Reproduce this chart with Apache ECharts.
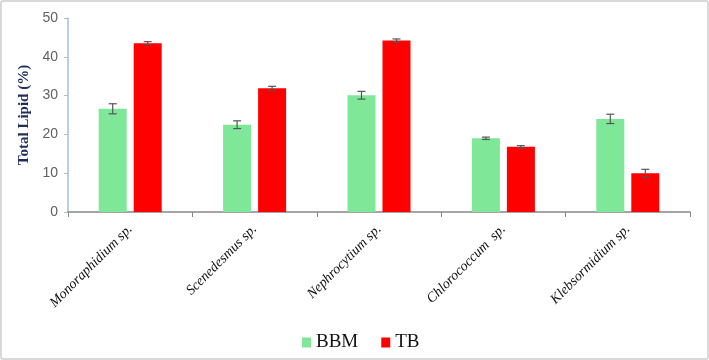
<!DOCTYPE html>
<html>
<head>
<meta charset="utf-8">
<script src="https://cdn.jsdelivr.net/npm/echarts@6/dist/echarts.min.js"></script>
<style>
  html, body { margin: 0; padding: 0; background: #fff; }
  #chart { width: 705px; height: 356px; border: 2px solid #d9d9d9; border-radius: 3px; }
</style>
</head>
<body>
<div id="chart"></div>
<script>
// species names (x axis)
var categories = ['Monoraphidium sp.', 'Scenedesmus sp.', 'Nephrocytium sp.', 'Chlorococcum  sp.', 'Klebsormidium sp.'];

// total lipid %
var bbmValues = [26.6, 22.5, 30.1, 19.0, 24.0];
var bbmErrors = [1.3, 1.0, 1.0, 0.3, 1.2];
var tbValues = [43.5, 31.9, 44.2, 16.8, 10.0];
var tbErrors = [0.4, 0.5, 0.4, 0.3, 1.0];

var chart = echarts.init(document.getElementById('chart'));

// error bars drawn on top of the bars, shifted left/right to each bar
var errorSeries = function (values, errors, side) {
    var data = values.map(function (v, i) { return [i, v - errors[i], v + errors[i]]; });
    return {
        type: 'custom',
        name: side < 0 ? 'errBBM' : 'errTB',
        z: 10,
        silent: true,
        renderItem: function (params, api) {
            var lo = api.coord([api.value(0), api.value(1)]);
            var hi = api.coord([api.value(0), api.value(2)]);
            var x = lo[0] + side * 17.5;
            var cap = 4;
            var st = { stroke: '#555', lineWidth: 1.2 };
            return {
                type: 'group',
                children: [
                    { type: 'line', shape: { x1: x, y1: lo[1], x2: x, y2: hi[1] }, style: st },
                    { type: 'line', shape: { x1: x - cap, y1: lo[1], x2: x + cap, y2: lo[1] }, style: st },
                    { type: 'line', shape: { x1: x - cap, y1: hi[1], x2: x + cap, y2: hi[1] }, style: st }
                ]
            };
        },
        data: data
    };
};

chart.setOption({
    animation: false,
    grid: { left: 66, right: 17, top: 16, bottom: 146, containLabel: false },
    legend: {
        data: ['BBM', 'TB'],
        left: 295,
        top: 326,
        itemWidth: 9,
        itemHeight: 10,
        itemGap: 23,
        icon: 'rect',
        textStyle: { fontFamily: 'Liberation Serif', fontSize: 19, color: '#111' }
    },
    xAxis: {
        type: 'category',
        data: categories,
        axisLine: { lineStyle: { color: '#868686', width: 1.5 } },
        axisTick: { show: true, length: 5, lineStyle: { color: '#868686' } },
        axisLabel: {
            rotate: 45,
            interval: 0,
            margin: 15,
            fontFamily: 'Liberation Serif',
            fontStyle: 'italic',
            fontSize: 14,
            color: '#111'
        }
    },
    yAxis: {
        type: 'value',
        min: 0,
        max: 50,
        interval: 10,
        name: 'Total Lipid (%)',
        nameLocation: 'middle',
        nameGap: 25,
        nameTextStyle: { fontFamily: 'Liberation Serif', fontWeight: 'bold', fontSize: 15, color: '#1f2d5a' },
        axisLine: { show: true, lineStyle: { color: '#a9bed9', width: 1.5 } },
        axisTick: { show: true, length: 4, lineStyle: { color: '#a9bed9' } },
        splitLine: { show: false },
        axisLabel: { fontFamily: 'Liberation Sans', fontSize: 14, color: '#5f5f5f', margin: 10 }
    },
    series: [
        {
            name: 'BBM',
            type: 'bar',
            data: bbmValues,
            barWidth: 28,
            barGap: '25%',
            itemStyle: { color: '#7ee898' }
        },
        {
            name: 'TB',
            type: 'bar',
            data: tbValues,
            barWidth: 28,
            itemStyle: { color: '#ff0000' }
        },
        errorSeries(bbmValues, bbmErrors, -1),
        errorSeries(tbValues, tbErrors, 1)
    ]
});
</script>
</body>
</html>
